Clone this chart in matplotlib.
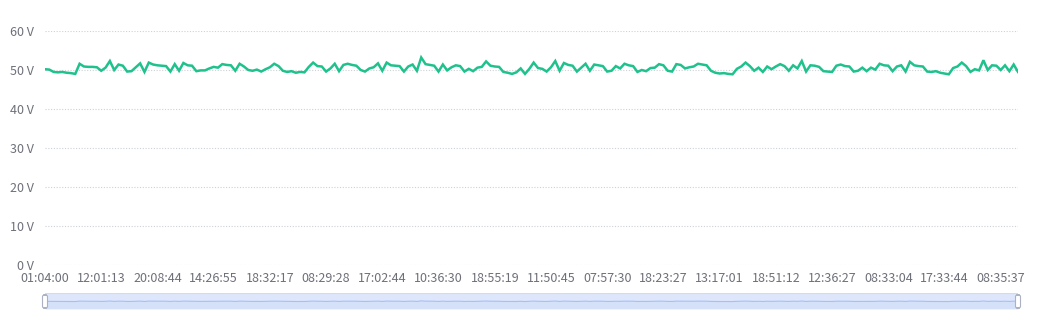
import numpy as np
import matplotlib
matplotlib.use("Agg")
import matplotlib.pyplot as plt
from matplotlib.patches import FancyBboxPatch, Rectangle

plt.rcParams['font.family'] = ['Noto Sans CJK SC', 'DejaVu Sans']

# ---- data ----
voltage_a = [50.2, 50.1, 49.5, 49.4, 49.5, 49.3, 49.2, 49.0, 51.6, 50.9, 50.8, 50.8, 50.7,
             49.8, 50.6, 52.3, 50.0, 51.4, 51.1, 49.6, 49.7, 50.7, 51.7, 49.5, 51.9, 51.4,
             51.2, 51.1, 51.0, 49.6, 51.5, 49.8, 51.8, 51.2, 51.1, 49.7, 49.9]
voltage_b = [49.9, 50.4, 50.8, 50.6, 51.5, 51.3, 51.2, 49.8, 51.6, 50.9, 50.0, 49.8, 50.1,
             49.6, 50.2, 50.7, 51.6, 51.0, 49.8, 49.5, 49.7, 49.3, 49.5, 49.4, 50.8, 51.9,
             51.0, 50.9, 49.6, 50.4, 51.6, 49.7, 51.3, 51.6, 51.3, 51.1, 50.0]
voltage_c = [49.6, 50.4, 50.7, 51.7, 49.8, 51.9, 51.2, 51.1, 51.0, 49.6, 50.9, 51.4, 49.8,
             53.2, 51.5, 51.3, 51.1, 49.6, 51.4, 49.9, 50.7, 51.2, 51.0, 49.6, 50.3, 49.7,
             50.6, 50.8, 52.2, 51.1, 50.9, 50.8, 49.5, 49.3, 49.0, 49.4, 50.4]
voltage_d = [49.0, 50.3, 51.9, 50.5, 50.3, 49.6, 50.7, 52.3, 49.8, 51.8, 51.3, 51.1, 49.6,
             50.6, 51.6, 49.8, 51.4, 51.2, 51.0, 49.6, 49.8, 51.0, 50.4, 51.6, 51.2, 51.0,
             49.5, 50.0, 49.7, 50.5, 50.6, 51.5, 51.2, 49.8, 49.6, 51.5, 51.3]
voltage_e = [50.4, 50.7, 50.9, 51.6, 51.4, 51.2, 49.8, 49.3, 49.1, 49.2, 49.0, 48.9, 50.3,
             50.9, 51.9, 51.0, 49.8, 50.6, 49.5, 50.9, 50.2, 50.9, 51.5, 51.0, 49.8, 51.2,
             50.4, 52.3, 49.6, 51.2, 51.1, 50.8, 49.7, 49.6, 49.5, 51.1, 51.4]
voltage_f = [51.0, 50.9, 49.6, 49.8, 50.6, 49.7, 50.6, 50.1, 51.6, 51.2, 51.1, 49.7, 50.9,
             51.2, 49.6, 52.1, 51.2, 51.0, 50.9, 49.6, 49.5, 49.7, 49.3, 49.1, 48.9, 50.5,
             50.9, 51.9, 51.0, 49.5, 50.2, 49.9, 52.5, 50.0, 51.2, 51.1, 50.0, 51.2, 49.7,
             51.4, 49.5]
voltage = voltage_a + voltage_b + voltage_c + voltage_d + voltage_e + voltage_f

tick_labels = ["01:04:00", "12:01:13", "20:08:44", "14:26:55", "18:32:17", "08:29:28",
               "17:02:44", "10:36:30", "18:55:19", "11:50:45", "07:57:30", "18:23:27",
               "13:17:01", "18:51:12", "12:36:27", "08:33:04", "17:33:44", "08:35:37"]
y_ticks = [0, 10, 20, 30, 40, 50, 60]

# ---- figure ----
W, H = 1050, 312
fig = plt.figure(figsize=(W / 100, H / 100), dpi=100)

x0, x1 = 45, 1018
ax = fig.add_axes([x0 / W, (H - 265) / H, (x1 - x0) / W, (265 - 31) / H])
n = len(voltage)
x = np.arange(n)
label_step = round((n - 1) / 17.27)

ax.plot(x, voltage, color='#1fc18c', lw=1.8, solid_joinstyle='miter', zorder=3)
ax.set_xlim(0, n - 1)
ax.set_ylim(0, 60)
ax.set_yticks(y_ticks)
ax.set_yticklabels([f"{v} V" for v in y_ticks])
ax.set_xticks([i * label_step for i in range(len(tick_labels))])
ax.set_xticklabels(tick_labels)
for v in y_ticks:
    ax.axhline(v, color='#cdd1d8', lw=0.8, ls=(0, (1, 1.5)), zorder=1)
for s in ax.spines.values():
    s.set_visible(False)
ax.tick_params(axis='both', length=0, colors='#6E7079', labelsize=9)
ax.tick_params(axis='y', pad=8)
ax.tick_params(axis='x', pad=5)

# ---- data zoom slider ----
sy0, sy1 = 293, 309
sax = fig.add_axes([x0 / W, (H - sy1) / H, (x1 - x0) / W, (sy1 - sy0) / H])
sax.set_xlim(0, n - 1)
sax.set_ylim(0, 105)
sax.add_patch(Rectangle((0, 0), n - 1, 105, facecolor='#dde6fb', edgecolor='#d2dbee',
                        lw=0.8, zorder=0))
sax.fill_between(x, voltage, 0, color='#d3def9', alpha=0.7, lw=0, zorder=1)
sax.plot(x, voltage, color='#a8bff4', lw=0.8, zorder=2)
sax.axis('off')
for hx in (x0, x1):
    fig.patches.append(FancyBboxPatch(((hx - 2.5) / W, (H - 308) / H), 5 / W, 13 / H,
                                      boxstyle="round,pad=0,rounding_size=0.004",
                                      transform=fig.transFigure, facecolor='white',
                                      edgecolor='#aab2c4', lw=0.8, zorder=5))

fig.savefig("out.png", dpi=100)
